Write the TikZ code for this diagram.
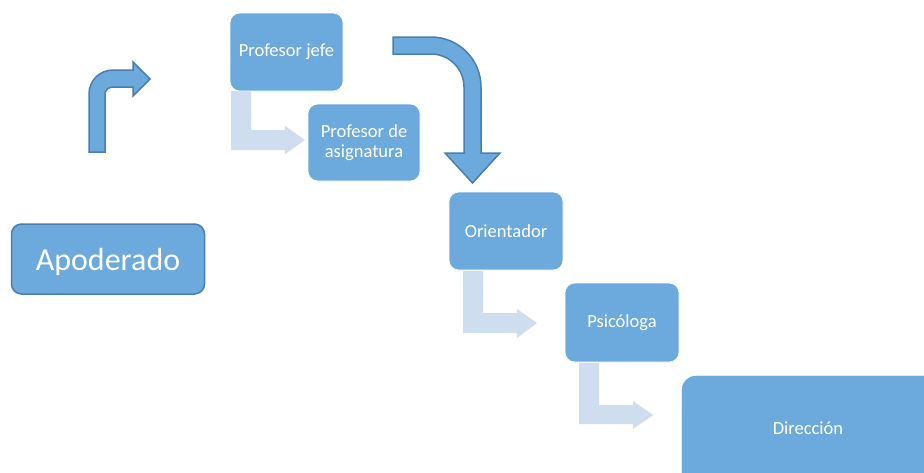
\documentclass[tikz,border=0pt]{standalone}
\usepackage{fontspec}
\setmainfont{Carlito}
\definecolor{boxblue}{RGB}{108,169,220}
\definecolor{darkblue}{RGB}{74,126,176}
\definecolor{lightarrow}{RGB}{207,222,239}
\begin{document}
\begin{tikzpicture}[x=1pt,y=-1pt,
  box/.style={draw=white,line width=0.6pt,fill=boxblue,rounded corners=10pt,text=white,
    font=\fontsize{18.5}{20}\selectfont,align=center,inner sep=0pt},
  lightarr/.style={fill=lightarrow,draw=none},
  bluearr/.style={fill=boxblue,draw=darkblue,line width=1.5pt,line join=miter}]
\useasboundingbox (0,0) rectangle (924,472);
\fill[white] (0,0) rectangle (924,472);
% light bent arrows
\path[lightarr] (231,91) -- (231,150) -- (285,150) -- (285,154) -- (305,140) -- (285,126) -- (285,130) -- (251,130) -- (251,91) -- cycle;
\path[lightarr] (463,271) -- (463,333) -- (517,333) -- (517,338) -- (537,323) -- (517,309) -- (517,313) -- (483,313) -- (483,271) -- cycle;
\path[lightarr] (579,363) -- (579,424) -- (633,424) -- (633,429) -- (653,415) -- (633,401) -- (633,405) -- (599,405) -- (599,363) -- cycle;
% nodes
\node[box,minimum width=113pt,minimum height=78pt] (jefe) at (286.5,52) {Profesor jefe};
\node[box,minimum width=112pt,minimum height=77pt] (asig) at (364,142.5) {Profesor de\\asignatura};
\node[box,minimum width=114pt,minimum height=78pt] (orient) at (506,231) {Orientador};
\node[box,minimum width=114pt,minimum height=79pt] (psico) at (622,322.5) {Psicóloga};
\node[box,rounded corners=15pt,minimum width=280pt,minimum height=120pt,anchor=north west] (dir) at (681,375) {};
\node[text=white,font=\fontsize{18.5}{20}\selectfont] (dirtext) at (808,428) {Dirección};
\node[box,draw=darkblue,line width=1.5pt,minimum width=193pt,minimum height=70pt] (apod) at (108,259) {};
\node[text=white,font=\fontsize{32}{36}\selectfont] (apodtext) at (108,262) {Apoderado};
% up-right bent arrow
\path[bluearr] (89,152) -- (89,94) .. controls (89,80.7) and (99.7,70) .. (113,70) -- (133,70) -- (133,62) -- (150,79) -- (133,96) -- (133,87) -- (113,87) .. controls (108.6,87) and (105,90.1) .. (105,94) -- (105,152) -- cycle;
% big right-down arrow
\path[bluearr] (393,37) -- (431,37) .. controls (458.6,37) and (481,59.4) .. (481,87) -- (481,153) -- (500,153) -- (472.5,183) -- (445,153) -- (464,153) -- (464,87) .. controls (464,68.8) and (449.2,54) .. (431,54) -- (393,54) -- cycle;
\end{tikzpicture}
\end{document}
